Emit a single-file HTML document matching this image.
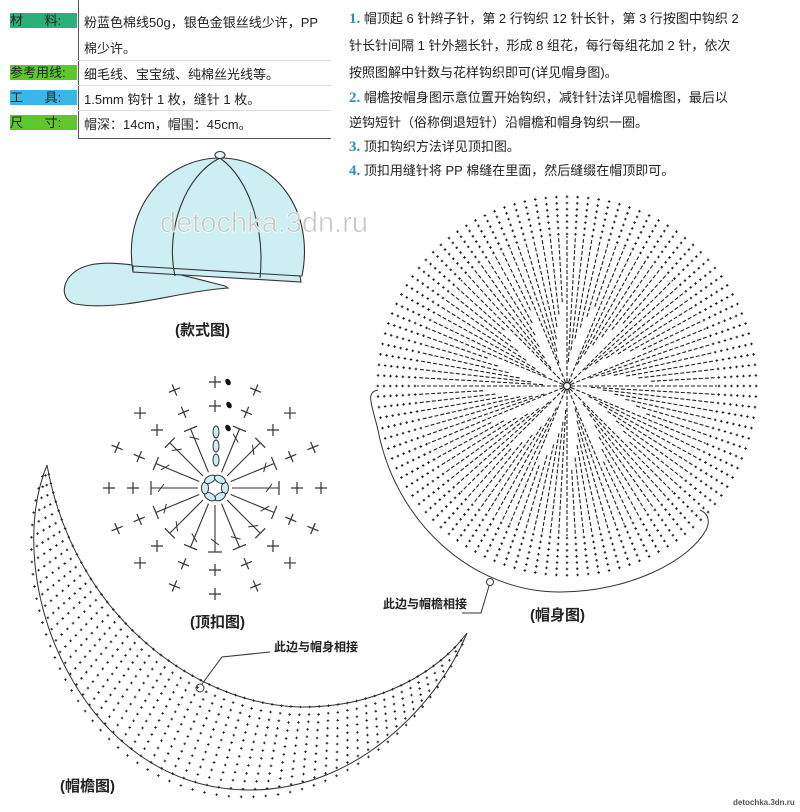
<!DOCTYPE html>
<html><head><meta charset="utf-8">
<style>
body{margin:0;background:#fff;width:800px;height:812px;overflow:hidden;position:relative;font-family:"Liberation Sans","Noto Sans CJK SC",sans-serif;}
.t{position:absolute;font-size:13px;color:#222;white-space:nowrap;}
.lab{position:absolute;left:10px;width:67px;height:15px;font-size:13px;color:#222;line-height:15px;}
.n{color:#2a8fc8;font-weight:bold;font-family:"Liberation Serif",serif;font-size:15px;}
.cap{position:absolute;font-size:15px;font-weight:bold;color:#222;white-space:nowrap;}
</style></head><body>
<div style="position:absolute;left:78px;top:0;width:1px;height:139px;background:#555"></div>
<div style="position:absolute;left:78px;top:138px;width:253px;height:1px;background:#555"></div>
<div style="position:absolute;left:78px;top:60px;width:253px;height:1px;background:#ddd"></div>
<div style="position:absolute;left:78px;top:85px;width:253px;height:1px;background:#ddd"></div>
<div style="position:absolute;left:78px;top:110px;width:253px;height:1px;background:#ddd"></div>
<div class="lab" style="top:13px;background:#2ab07a">材&nbsp;&nbsp;&nbsp;&nbsp;&nbsp;&nbsp;料:</div>
<div class="lab" style="top:65px;background:#5cc82c">参考用线:</div>
<div class="lab" style="top:90px;background:#3ab6e8">工&nbsp;&nbsp;&nbsp;&nbsp;&nbsp;&nbsp;具:</div>
<div class="lab" style="top:115px;background:#5cc82c">尺&nbsp;&nbsp;&nbsp;&nbsp;&nbsp;&nbsp;寸:</div>
<div class="t" style="left:84px;top:12px">粉蓝色棉线50g，银色金银丝线少许，PP</div>
<div class="t" style="left:84px;top:38px">棉少许。</div>
<div class="t" style="left:84px;top:64px">细毛线、宝宝绒、纯棉丝光线等。</div>
<div class="t" style="left:84px;top:89px">1.5mm 钩针 1 枚，缝针 1 枚。</div>
<div class="t" style="left:84px;top:114px">帽深：14cm，帽围：45cm。</div>

<div class="t" style="left:349px;top:8px"><span class="n">1.</span> 帽顶起 6 针辫子针，第 2 行钩织 12 针长针，第 3 行按图中钩织 2</div>
<div class="t" style="left:349px;top:35px">针长针间隔 1 针外翘长针，形成 8 组花，每行每组花加 2 针，依次</div>
<div class="t" style="left:349px;top:62px">按照图解中针数与花样钩织即可(详见帽身图)。</div>
<div class="t" style="left:349px;top:87px"><span class="n">2.</span> 帽檐按帽身图示意位置开始钩织，减针针法详见帽檐图，最后以</div>
<div class="t" style="left:349px;top:112px">逆钩短针（俗称倒退短针）沿帽檐和帽身钩织一圈。</div>
<div class="t" style="left:349px;top:136px"><span class="n">3.</span> 顶扣钩织方法详见顶扣图。</div>
<div class="t" style="left:349px;top:160px"><span class="n">4.</span> 顶扣用缝针将 PP 棉缝在里面，然后缝缀在帽顶即可。</div>

<svg id="sv" width="800" height="812" style="position:absolute;left:0;top:0" xmlns="http://www.w3.org/2000/svg">
<g stroke="#333" stroke-width="1.1" fill="#cdeff3">
<path d="M225,286 C170,272 120,258 90,265 C60,272 58,300 75,304 C120,312 175,292 228,288 Z"/>
<path d="M133,272 C122,205 168,158 220,158 C275,158 315,210 302,276 Z"/>
<path d="M133,266 L300,276 L301,282 L133,272 Z"/>
<path d="M220,158 C185,175 165,230 175,276" fill="none"/>
<path d="M220,158 C250,180 265,230 260,278" fill="none"/>
<ellipse cx="220" cy="155" rx="5" ry="3.5" fill="#e6f7f9"/>
</g>
<text x="160" y="232" font-family="Liberation Sans,sans-serif" font-size="29" fill="#c8c8c8" stroke="#fff" stroke-width="0.6">detochka.3dn.ru</text>
<g id="body"></g>
<path d="M378,390 C365,392 372,405 378,430 C395,520 470,592 560,592 C630,592 690,560 706,530 C712,518 705,512 700,510" fill="none" stroke="#333" stroke-width="1"/>
<circle cx="490" cy="582" r="3.5" fill="none" stroke="#333"/>
<path d="M489,586 L481,613 L462,613" fill="none" stroke="#333"/>
<g id="btn"></g>
<path id="inner" d="M47,465 C75,620 200,705 300,707 C380,708 440,670 467,633" fill="none" stroke="#333" stroke-width="1"/>
<path id="outer" d="M47,465 C0,580 80,790 250,790 C360,790 440,700 467,633" fill="none" stroke="#333" stroke-width="1"/>
<g id="brim"></g>
<circle cx="200" cy="688" r="4" fill="none" stroke="#333"/>
<path d="M202,684 L222,657 L270,652" fill="none" stroke="#333"/>
</svg>
<div class="cap" style="left:175px;top:319px">(款式图)</div>
<div class="cap" style="left:190px;top:611px">(顶扣图)</div>
<div class="cap" style="left:530px;top:604px">(帽身图)</div>
<div class="cap" style="left:60px;top:775px">(帽檐图)</div>
<div class="t" style="left:383px;top:595px;font-size:12px;font-weight:bold">此边与帽檐相接</div>
<div class="t" style="left:274px;top:638px;font-size:12px;font-weight:bold">此边与帽身相接</div>
<div class="t" style="left:733px;top:798px;font-size:8px;font-weight:bold;color:#555">detochka.3dn.ru</div>
<script>
var NS="http://www.w3.org/2000/svg";
function el(p,t,a){var e=document.createElementNS(NS,t);for(var k in a)e.setAttribute(k,a[k]);p.appendChild(e);return e;}
var b=document.getElementById('body'),cx=567,cy=386,N=112;
for(var i=0;i<N;i++){
 var a=i/N*2*Math.PI,s=(i%7==0)?4:(12+(i%7)*12);
 var c=Math.cos(a),sn=Math.sin(a);
 el(b,'line',{x1:cx+c*s,y1:cy+sn*s,x2:cx+c*150,y2:cy+sn*150,stroke:'#222','stroke-width':1.1,'stroke-dasharray':'4 2'});
 for(var r=152;r<=190;r+=6.2){
  el(b,'path',{d:'M'+(cx+c*r-1.3)+','+(cy+sn*r)+'h2.6M'+(cx+c*r)+','+(cy+sn*r-1.3)+'v2.6',stroke:'#222','stroke-width':1});
 }
}
el(b,'circle',{cx:cx,cy:cy,r:3.5,fill:'#fff',stroke:'#222','stroke-width':1.2});
var g=document.getElementById('btn'),bx=215,by=488;
for(var k=0;k<6;k++){var a=k*60,ex=bx+Math.cos(a*Math.PI/180)*10,ey=by+Math.sin(a*Math.PI/180)*10;el(g,'ellipse',{cx:ex,cy:ey,rx:6,ry:3.5,transform:'rotate('+(a+90)+' '+ex+' '+ey+')',fill:'#cdeff3',stroke:'#333'});}
for(var k=0;k<3;k++)el(g,'ellipse',{cx:216,cy:432+k*14,rx:3,ry:6,fill:'#cdeff3',stroke:'#333'});
[[228,382],[229,405],[228,428]].forEach(function(p){el(g,'ellipse',{cx:p[0],cy:p[1],rx:2.5,ry:3.5,fill:'#111',transform:'rotate(-30 '+p[0]+' '+p[1]+')'});});
function cross(x,y,rot){el(g,'path',{d:'M'+(x-6)+','+y+'h12M'+x+','+(y-6)+'v12',stroke:'#333','stroke-width':1.2,transform:'rotate('+rot+' '+x+' '+y+')'});}
for(var k=0;k<16;k++){
 var a=k*22.5,ra=a*Math.PI/180,c=Math.cos(ra),s=Math.sin(ra);
 if(k!=12){
  var R=64;
  el(g,'line',{x1:bx+c*17,y1:by+s*17,x2:bx+c*R,y2:by+s*R,stroke:'#333','stroke-width':1.1});
  el(g,'line',{x1:bx+c*R-s*7,y1:by+s*R+c*7,x2:bx+c*R+s*7,y2:by+s*R-c*7,stroke:'#333','stroke-width':1.2});
  var m=R-10;el(g,'line',{x1:bx+c*m-s*4-c*3,y1:by+s*m+c*4-s*3,x2:bx+c*m+s*4+c*3,y2:by+s*m-c*4+s*3,stroke:'#333','stroke-width':1});
 }
 cross(bx+c*82,by+s*82,a%45==0?0:a);
 cross(bx+c*106,by+s*106,a%45==0?0:a);
}
var br=document.getElementById('brim'),pi=document.getElementById('inner'),po=document.getElementById('outer');
var Li=pi.getTotalLength(),Lo=po.getTotalLength(),M=60;
for(var j=1;j<M;j++){
 var t=j/M,p1=pi.getPointAtLength(t*Li),p2=po.getPointAtLength(t*Lo);
 var dx=p2.x-p1.x,dy=p2.y-p1.y,d=Math.sqrt(dx*dx+dy*dy);if(d<3)continue;
 var n=Math.round(d/8)+1;
 for(var q=0;q<=n;q++){var f=q/n*1.08,x=p1.x+dx*f,y=p1.y+dy*f;el(br,'path',{d:'M'+(x-1.3)+','+y+'h2.6M'+x+','+(y-1.3)+'v2.6',stroke:'#222','stroke-width':0.9});}
}
</script>
</body></html>
